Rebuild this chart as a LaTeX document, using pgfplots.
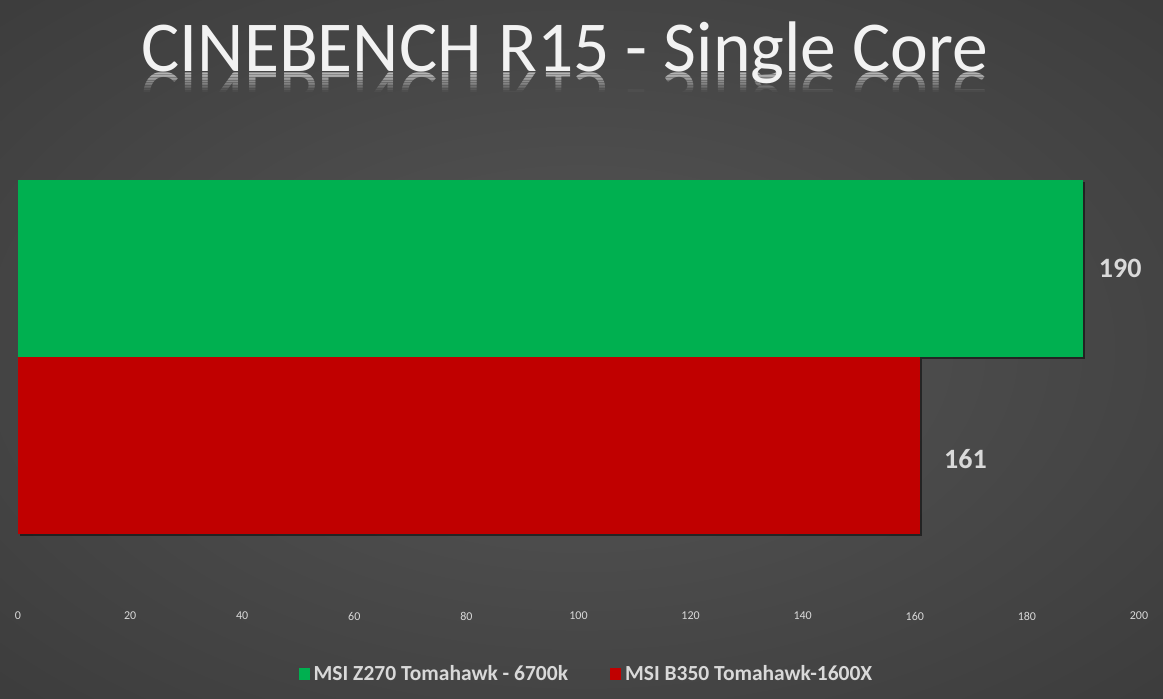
\documentclass[border=0pt]{standalone}
\usepackage{pgfplots}
\pgfplotsset{compat=1.18}
\usepackage{fontspec}
\setmainfont{Carlito}
\usetikzlibrary{shadows}
\definecolor{bargreen}{RGB}{0,176,80}
\definecolor{barred}{RGB}{192,0,0}
\definecolor{lbl}{RGB}{217,217,217}
\definecolor{ttl}{RGB}{242,242,242}
\definecolor{bgA}{RGB}{86,86,86}
\definecolor{bgB}{RGB}{50,50,50}
\definecolor{bgC}{RGB}{40,40,40}
\pgfdeclareradialshading{bgshade}{\pgfpoint{0bp}{0bp}}{color(0bp)=(bgA); color(50bp)=(bgB); color(71bp)=(bgC); color(100bp)=(bgC)}
\begin{document}
\begin{tikzpicture}[x=0.5pt,y=0.5pt]
\useasboundingbox (0,0) rectangle (1163,698);
\shade[shading=bgshade] (0,0) rectangle (1163,698);
% title
\node[anchor=base, text=ttl, inner sep=0pt, font=\fontsize{35.8}{40}\selectfont] at (565,626) {CINEBENCH R15 - Single Core};
\foreach \i in {0,...,11}{
  \pgfmathsetmacro{\op}{0.42*(1-\i/12)}
  \begin{scope}
  \clip (0,{626-1.6*\i}) rectangle (1163,{626-1.6*\i-1.6});
  \node[anchor=base, text=ttl, inner sep=0pt, yscale=-1, opacity=\op, font=\fontsize{35.8}{40}\selectfont] at (565,626) {CINEBENCH R15 - Single Core};
  \end{scope}
}
\coordinate (axpos) at (18,98);
\begin{axis}[
  at={(axpos)}, anchor=south west,
  scale only axis, width=560.5pt, height=219pt,
  xbar, bar width=1, bar shift=0pt,
  xmin=0, xmax=200, ymin=-0.873, ymax=1.602,
  xtick={0,20,...,200}, ytick=\empty,
  axis line style={draw=none}, major tick length=0pt,
  /pgf/number format/assume math mode=true,
  xticklabel style={font=\fontsize{6}{7}\selectfont, text=lbl, yshift=-2.5pt},
  nodes near coords, nodes near coords align={horizontal},
  every node near coord/.append style={font=\bfseries\fontsize{14}{16}\selectfont, text=lbl, anchor=west, inner sep=0pt},
  legend columns=2,
  legend style={at={(0.508,-0.169)}, anchor=center, draw=none, fill=none, text=lbl,
    font=\bfseries\fontsize{10.75}{12}\selectfont,
    /tikz/every even column/.append style={column sep=19pt}},
  legend image code/.code={\fill[#1,draw=none] (0pt,-2.8pt) rectangle (5.5pt,2.8pt);},
]
\addplot[fill=bargreen, draw=none, forget plot, drop shadow={shadow xshift=1pt, shadow yshift=-1.2pt, opacity=0.5, fill=black},
  every node near coord/.append style={xshift=7.8pt}] coordinates {(190,1)};
\addplot[fill=barred, draw=none, forget plot, drop shadow={shadow xshift=1pt, shadow yshift=-1.2pt, opacity=0.5, fill=black},
  every node near coord/.append style={xshift=11.7pt, yshift=-7pt}] coordinates {(161,0)};
\addlegendimage{fill=bargreen, draw=none}
\addlegendentry{MSI Z270 Tomahawk - 6700k}
\addlegendimage{fill=barred, draw=none}
\addlegendentry{MSI B350 Tomahawk-1600X}
\end{axis}
\end{tikzpicture}
\end{document}
